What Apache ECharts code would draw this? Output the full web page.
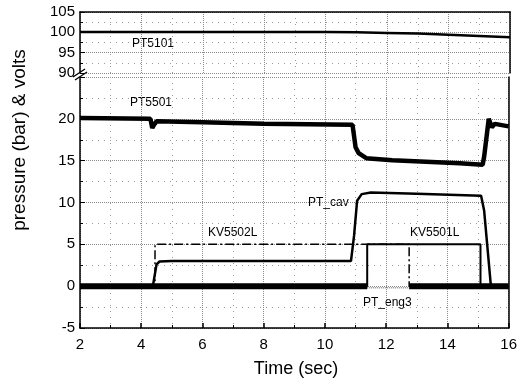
<!DOCTYPE html>
<html>
<head>
<meta charset="utf-8">
<script src="https://cdn.jsdelivr.net/npm/echarts@6/dist/echarts.min.js"></script>
<style>
  html, body { margin: 0; padding: 0; background: #fff; }
  #chart { width: 520px; height: 379px; }
</style>
</head>
<body>
<div id="chart"></div>
<script>
// tick labels
var xTicks = [2, 4, 6, 8, 10, 12, 14, 16];

// PT5101 (upper panel)
var pt5101T = [2, 10, 11, 12, 13, 14, 15, 16];
var pt5101V = [100.1, 100.1, 100.0, 99.85, 99.7, 99.4, 99.1, 98.8];

// PT5501
var pt5501T = [2, 4.3, 4.36, 4.42, 4.5, 6, 8, 10.9, 11.0, 11.1, 11.35, 12.2, 14.4, 15.15, 15.2, 15.35, 15.45, 15.55, 16];
var pt5501V = [20.1, 20.0, 18.9, 19.3, 19.7, 19.6, 19.4, 19.3, 16.6, 15.9, 15.3, 15.05, 14.7, 14.5, 15.5, 20.0, 19.0, 19.4, 19.1];

// PT_cav
var ptCavT = [2, 4.38, 4.5, 4.6, 5, 10.85, 10.95, 11.05, 11.2, 11.5, 13, 15.1, 15.2, 15.42, 16];
var ptCavV = [0, 0, 2.6, 2.95, 3.0, 3.0, 6.0, 10.2, 11.0, 11.2, 11.05, 10.8, 9.0, 0, 0];

// KV5502L (dash-dot)
var kv5502T = [2, 4.45, 4.45, 12.75, 12.75, 16];
var kv5502V = [0, 0, 5, 5, 0, 0];

// KV5501L
var kv5501T = [2, 11.38, 11.38, 15.08, 15.08, 16];
var kv5501V = [0, 0, 5, 5, 0, 0];

// PT_eng3 (thick noisy band with a gap)
var ptEng3T = [2, 11.38, 11.4, 12.73, 12.75, 16];
var ptEng3V = [0, 0, null, null, 0, 0];
var ptEng3GapT = [11.38, 12.75];
var ptEng3GapV = [-0.2, -0.2];

function zip(t, v) {
    var out = [];
    for (var i = 0; i < t.length; i++) {
        out.push([t[i], v[i]]);
    }
    return out;
}

var font = 'Liberation Sans, Arial, sans-serif';
var gridLine = { show: true, lineStyle: { color: '#8a8a8a', type: 'dotted', width: 1 } };
var minorLine = { show: true, lineStyle: { color: '#9a9a9a', type: [1, 5], width: 1 } };
var blackLine = { show: true, onZero: false, lineStyle: { color: '#000', width: 1.5 } };

var myChart = echarts.init(document.getElementById('chart'));
var option = {
    animation: false,
    backgroundColor: '#fff',
    grid: [
        { left: 80, right: 10, top: 12, height: 61 },
        { left: 80, right: 10, top: 77, bottom: 51 }
    ],
    xAxis: [
        {
            gridIndex: 0, type: 'value', position: 'top', min: 2, max: 16, interval: 2,
            axisLine: blackLine,
            axisTick: { show: false },
            axisLabel: { show: false },
            splitLine: gridLine,
            minorTick: { show: false, splitNumber: 2 },
            minorSplitLine: minorLine
        },
        {
            gridIndex: 1, type: 'value', position: 'bottom', min: 2, max: 16, interval: 2,
            axisLine: blackLine,
            axisTick: { show: true, inside: true, length: 5, lineStyle: { color: '#000', width: 1.5 } },
            minorTick: { show: true, splitNumber: 2, length: 3, lineStyle: { color: '#000' } },
            axisLabel: { color: '#000', fontSize: 15, fontFamily: font, margin: 9 },
            splitLine: gridLine,
            minorSplitLine: minorLine
        }
    ],
    yAxis: [
        {
            gridIndex: 0, type: 'value', min: 90, max: 105, interval: 5,
            axisLine: blackLine,
            axisTick: { show: true, inside: true, length: 5, lineStyle: { color: '#000' } },
            minorTick: { show: true, splitNumber: 2, length: 3, lineStyle: { color: '#000' } },
            axisLabel: { color: '#000', fontSize: 15, fontFamily: font, margin: 5 },
            splitLine: gridLine,
            minorSplitLine: minorLine
        },
        {
            gridIndex: 0, type: 'value', position: 'right', min: 90, max: 105, interval: 5,
            axisLine: blackLine, axisTick: { show: false }, axisLabel: { show: false },
            splitLine: { show: false }
        },
        {
            gridIndex: 1, type: 'value', min: -5, max: 25, interval: 5,
            axisLine: blackLine,
            axisTick: { show: true, inside: true, length: 5, lineStyle: { color: '#000' } },
            minorTick: { show: true, splitNumber: 2, length: 3, lineStyle: { color: '#000' } },
            axisLabel: { color: '#000', fontSize: 15, fontFamily: font, margin: 5, showMaxLabel: false },
            splitLine: gridLine,
            minorSplitLine: minorLine
        },
        {
            gridIndex: 1, type: 'value', position: 'right', min: -5, max: 25, interval: 5,
            axisLine: blackLine, axisTick: { show: false }, axisLabel: { show: false },
            splitLine: { show: false }
        }
    ],
    series: [
        {
            name: 'PT5101', type: 'line', xAxisIndex: 0, yAxisIndex: 0, symbol: 'none',
            lineStyle: { color: '#000', width: 2.5 }, data: zip(pt5101T, pt5101V)
        },
        {
            name: 'PT5501', type: 'line', xAxisIndex: 1, yAxisIndex: 2, symbol: 'none',
            lineStyle: { color: '#000', width: 4.5 }, data: zip(pt5501T, pt5501V)
        },
        {
            name: 'PT_eng3', type: 'line', xAxisIndex: 1, yAxisIndex: 2, symbol: 'none',
            lineStyle: { color: '#000', width: 6 }, data: zip(ptEng3T, ptEng3V)
        },
        {
            name: 'PT_eng3 gap', type: 'line', xAxisIndex: 1, yAxisIndex: 2, symbol: 'none',
            lineStyle: { color: '#555', width: 1, type: 'dotted' }, data: zip(ptEng3GapT, ptEng3GapV)
        },
        {
            name: 'PT_cav', type: 'line', xAxisIndex: 1, yAxisIndex: 2, symbol: 'none',
            lineStyle: { color: '#000', width: 2.5 }, data: zip(ptCavT, ptCavV)
        },
        {
            name: 'KV5502L', type: 'line', xAxisIndex: 1, yAxisIndex: 2, symbol: 'none',
            lineStyle: { color: '#000', width: 1.5, type: [9, 3, 2, 3] }, data: zip(kv5502T, kv5502V)
        },
        {
            name: 'KV5501L', type: 'line', xAxisIndex: 1, yAxisIndex: 2, symbol: 'none',
            lineStyle: { color: '#000', width: 2 }, data: zip(kv5501T, kv5501V)
        }
    ],
    graphic: [
        // axis titles
        {
            type: 'text', x: 20, y: 140, rotation: Math.PI / 2,
            style: { text: 'pressure (bar) & volts', font: '19px ' + font, fill: '#000', align: 'center', verticalAlign: 'middle' }
        },
        {
            type: 'text', x: 296, y: 369,
            style: { text: 'Time (sec)', font: '18px ' + font, fill: '#000', align: 'center', verticalAlign: 'middle' }
        },
        // series labels
        { type: 'text', x: 132, y: 44, style: { text: 'PT5101', font: '12px ' + font, fill: '#000', verticalAlign: 'middle' } },
        { type: 'text', x: 130, y: 103, style: { text: 'PT5501', font: '12px ' + font, fill: '#000', verticalAlign: 'middle' } },
        { type: 'text', x: 308, y: 203, style: { text: 'PT_cav', font: '12px ' + font, fill: '#000', verticalAlign: 'middle' } },
        { type: 'text', x: 208, y: 233, style: { text: 'KV5502L', font: '12px ' + font, fill: '#000', verticalAlign: 'middle' } },
        { type: 'text', x: 410, y: 233, style: { text: 'KV5501L', font: '12px ' + font, fill: '#000', verticalAlign: 'middle' } },
        { type: 'text', x: 363, y: 303, style: { text: 'PT_eng3', font: '12px ' + font, fill: '#000', verticalAlign: 'middle' } },
        // axis break marks
        { type: 'line', shape: { x1: 73, y1: 77, x2: 85, y2: 69 }, style: { stroke: '#000', lineWidth: 1.3 } },
        { type: 'line', shape: { x1: 75, y1: 80, x2: 87, y2: 72 }, style: { stroke: '#000', lineWidth: 1.3 } }
    ]
};
myChart.setOption(option);
</script>
</body>
</html>
